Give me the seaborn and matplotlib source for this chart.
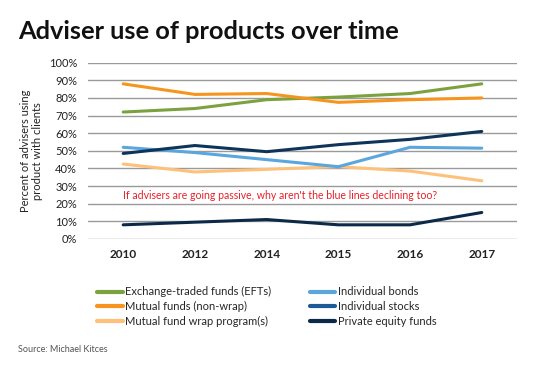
import pandas as pd
import matplotlib.pyplot as plt
import seaborn as sns
from matplotlib.lines import Line2D

years = ["2010", "2012", "2014", "2015", "2016", "2017"]

etfs = [72, 74, 79, 80.5, 82.5, 88]
mutual_funds = [88, 82, 82.5, 77.5, 79, 80]
wrap_programs = [42.5, 38, 39.5, 41, 38.5, 33]
bonds = [52, 49, 45, 41, 52, 51.5]
stocks = [48.5, 53, 49.5, 53.5, 56.5, 61]
private_equity = [8, 9.5, 11, 8, 8, 15]

series = {
    "Exchange-traded funds (EFTs)": etfs,
    "Mutual funds (non-wrap)": mutual_funds,
    "Mutual fund wrap program(s)": wrap_programs,
    "Individual bonds": bonds,
    "Individual stocks": stocks,
    "Private equity funds": private_equity,
}
colors = {
    "Exchange-traded funds (EFTs)": "#7ba23f",
    "Mutual funds (non-wrap)": "#f7941d",
    "Mutual fund wrap program(s)": "#fdc17c",
    "Individual bonds": "#5aa6dd",
    "Individual stocks": "#0f3459",
    "Private equity funds": "#0c2a48",
}
legend_colors = dict(colors, **{"Individual stocks": "#1d5b98"})

rows = []
for name, vals in series.items():
    for i, v in enumerate(vals):
        rows.append({"pos": i, "year": years[i], "product": name, "pct": v})
df = pd.DataFrame(rows)

sns.set_style("white")
plt.rcParams["font.family"] = ["Lato", "DejaVu Sans"]

fig = plt.figure(figsize=(5.47, 3.71), dpi=100)
ax = fig.add_axes([0.161, 0.356, 0.784, 0.475])

for y in range(0, 101, 10):
    ax.axhline(y, color="#9a9a9a", lw=1, zorder=0)

sns.lineplot(data=df, x="pos", y="pct", hue="product", palette=colors,
             hue_order=list(series.keys()), linewidth=2.2, sort=False,
             legend=False, ax=ax)

ax.set_xlim(-0.49, len(years) - 1 + 0.49)
ax.set_ylim(0, 100)
ax.set_xticks(range(len(years)))
ax.set_xticklabels(years, fontsize=8.5, fontweight="bold", color="#222")
ax.set_yticks(range(0, 101, 10))
ax.set_yticklabels([f"{v}%" for v in range(0, 101, 10)], fontsize=8, color="#222")
ax.tick_params(axis="both", length=0)
ax.tick_params(axis="x", pad=7)
ax.tick_params(axis="y", pad=8)
ax.set_xlabel("")
ax.set_ylabel("Percent of advisers using\nproduct with clients", fontsize=8,
              color="#222", labelpad=4, linespacing=1.1)
sns.despine(ax=ax, left=True, bottom=True)

ax.text(2.19, 24.4, "If advisers are going passive, why aren't the blue lines declining too?",
        color="#e8202a", fontsize=7.6, ha="center", va="center")

fig.text(0.033, 0.915, "Adviser use of products over time", fontsize=18.3,
         fontweight="bold", color="#111", va="center")

handles = [Line2D([], [], color=legend_colors[n], lw=3) for n in series]
fig.legend(handles, list(series.keys()), ncol=2, loc="center left",
           bbox_to_anchor=(0.159, 0.173), frameon=False, fontsize=8,
           handlelength=2.3, handletextpad=0.2, columnspacing=3.5,
           labelspacing=0.35)

fig.text(0.033, 0.057, "Source: Michael Kitces", fontsize=6.5, color="#555", va="center")

fig.savefig("out.png", dpi=100)
